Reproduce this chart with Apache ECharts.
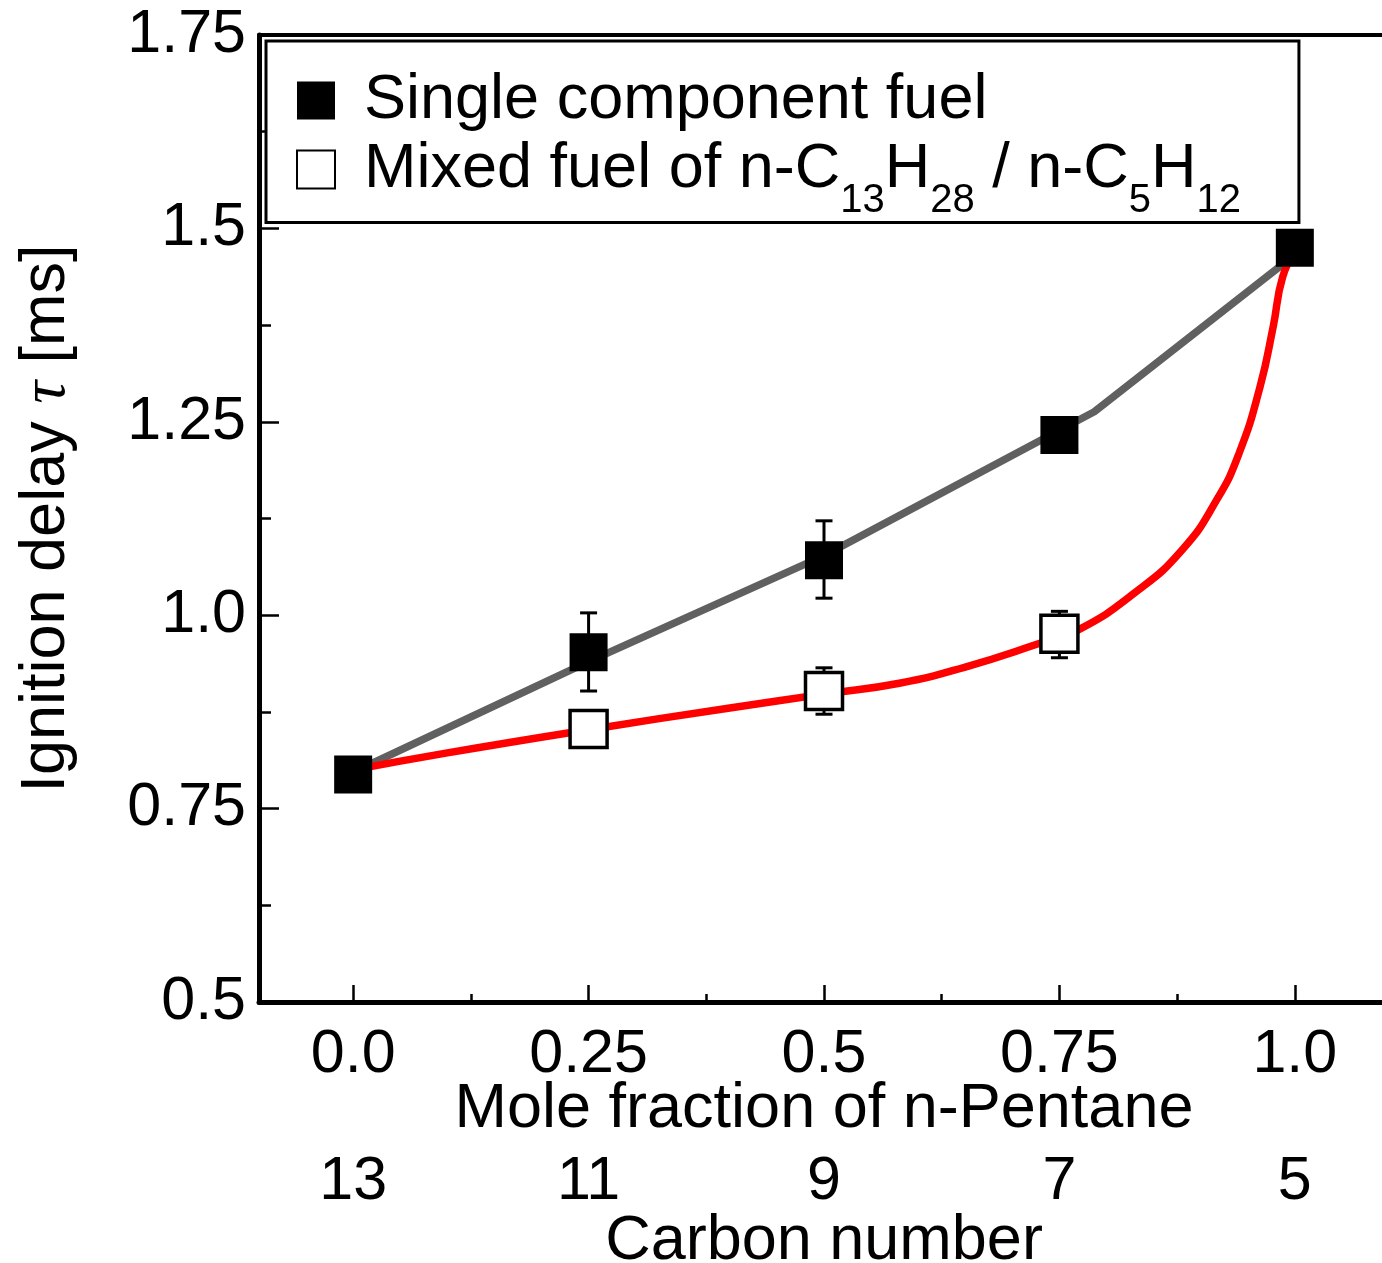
<!DOCTYPE html>
<html>
<head>
<meta charset="utf-8">
<script src="https://cdn.jsdelivr.net/npm/echarts@6/dist/echarts.min.js"></script>
<style>html,body{margin:0;padding:0;background:#fff}#c{width:1382px;height:1263px}</style>
</head>
<body>
<div id="c"></div>
<script>
// ---- data ----
const xTicks = [0, 0.25, 0.5, 0.75, 1.0];
const xTickLabels = ['0.0', '0.25', '0.5', '0.75', '1.0'];
const xMinorTicks = [0.125, 0.375, 0.625, 0.875];
const carbonLabels = ['13', '11', '9', '7', '5'];
const yTicks = [0.5, 0.75, 1.0, 1.25, 1.5, 1.75];
const yTickLabels = ['0.5', '0.75', '1.0', '1.25', '1.5', '1.75'];

const singleX = [0, 0.25, 0.5, 0.75, 1.0];
const singleY = [0.794, 0.952, 1.071, 1.233, 1.475];
const singleErrX = [0.25, 0.5];
const singleErrLow = [0.902, 1.022];
const singleErrHigh = [1.003, 1.122];

const mixedX = [0.25, 0.5, 0.75];
const mixedY = [0.853, 0.902, 0.976];
const mixedErrX = [0.5, 0.75];
const mixedErrLow = [0.872, 0.945];
const mixedErrHigh = [0.932, 1.005];

const grayX = [0, 0.25, 0.5, 0.787, 1.0];
const grayY = [0.797, 0.94, 1.077, 1.263, 1.466];

const redX = [0, 0.1, 0.25, 0.4, 0.5, 0.58, 0.65, 0.73, 0.77, 0.83, 0.88, 0.917, 0.941, 0.963, 0.977, 0.987, 1.0];
const redY = [0.80, 0.822, 0.852, 0.880, 0.898, 0.912, 0.933, 0.964, 0.981, 1.029, 1.084, 1.149, 1.210, 1.295, 1.373, 1.437, 1.47];

const NAME_SINGLE = 'Single component fuel';
const NAME_MIXED = 'Mixed fuel of n-C13H28 / n-C5H12';

// ---- build ----
const FONT = 'Liberation Sans, Arial, Helvetica, sans-serif';
const zip = (xs, ys) => xs.map((x, i) => [x, ys[i]]);
const zip3 = (xs, a, b) => xs.map((x, i) => [x, a[i], b[i]]);
const pick = (vals, labels) => v => {
  for (let i = 0; i < vals.length; i++) if (Math.abs(vals[i] - v) < 1e-9) return labels[i];
  return '';
};

function errRender(params, api) {
  const x = api.value(0);
  const p1 = api.coord([x, api.value(1)]);
  const p2 = api.coord([x, api.value(2)]);
  const cap = 8.5;
  const st = { stroke: '#000', lineWidth: 3 };
  return {
    type: 'group',
    children: [
      { type: 'line', shape: { x1: p1[0], y1: p1[1], x2: p2[0], y2: p2[1] }, style: st },
      { type: 'line', shape: { x1: p1[0] - cap, y1: p1[1], x2: p1[0] + cap, y2: p1[1] }, style: st },
      { type: 'line', shape: { x1: p2[0] - cap, y1: p2[1], x2: p2[0] + cap, y2: p2[1] }, style: st }
    ]
  };
}

const chart = echarts.init(document.getElementById('c'), null, { renderer: 'canvas' });
const baseX = { type: 'value', min: -0.1, max: 1.1, splitLine: { show: false } };
const TICK_FS = 61, TITLE_FS = 63, LEG_FS = 63;

chart.setOption({
  animation: false,
  backgroundColor: '#fff',
  grid: { left: 259, top: 35, width: 1130, height: 967, containLabel: false, outerBoundsMode: 'none' },
  legend: {
    data: [NAME_SINGLE, NAME_MIXED],
    orient: 'vertical',
    left: 266, top: 41,
    padding: [28, 58, 2, 30],
    itemGap: 6,
    itemWidth: 38, itemHeight: 38,
    borderColor: '#000', borderWidth: 3,
    backgroundColor: '#fff',
    selectedMode: false,
    formatter: function (name) {
      if (name === NAME_SINGLE) return '{sp|}{a|Single component fuel}';
      return '{sp|}{a|Mixed fuel of n-C}{s|13}{a|H}{s|28}{a| / n-C}{s|5}{a|H}{s|12}';
    },
    textStyle: {
      fontFamily: FONT, fontSize: LEG_FS, lineHeight: 60, color: '#000',
      rich: {
        sp: { width: 24, lineHeight: 60 },
        a: { fontFamily: FONT, fontSize: LEG_FS, lineHeight: 60, color: '#000' },
        s: { fontFamily: FONT, fontSize: 40, lineHeight: 14, verticalAlign: 'top', padding: [41, 0, 0, 0], color: '#000' }
      }
    }
  },
  xAxis: [
    Object.assign({}, baseX, {
      position: 'bottom',
      axisLine: { show: true, onZero: false, lineStyle: { color: '#000', width: 5 } },
      axisTick: { show: true, inside: true, length: 17, customValues: xTicks, lineStyle: { color: '#000', width: 2.5 } },
      axisLabel: { show: true, customValues: xTicks, formatter: pick(xTicks, xTickLabels), fontFamily: FONT, fontSize: TICK_FS, color: '#000', margin: 23 },
      name: 'Mole fraction of n-Pentane', nameLocation: 'middle', nameGap: 76, nameMoveOverlap: false,
      nameTextStyle: { fontFamily: FONT, fontSize: TITLE_FS, color: '#000' }
    }),
    Object.assign({}, baseX, {
      position: 'bottom',
      axisLine: { show: false, onZero: false },
      axisTick: { show: true, inside: true, length: 8, customValues: xMinorTicks, lineStyle: { color: '#000', width: 2.5 } },
      axisLabel: { show: false }
    }),
    Object.assign({}, baseX, {
      position: 'bottom',
      axisLine: { show: false, onZero: false },
      axisTick: { show: false },
      axisLabel: { show: true, customValues: xTicks, formatter: pick(xTicks, carbonLabels), fontFamily: FONT, fontSize: TICK_FS, color: '#000', margin: 150 },
      name: 'Carbon number', nameLocation: 'middle', nameGap: 208, nameMoveOverlap: false,
      nameTextStyle: { fontFamily: FONT, fontSize: TITLE_FS, color: '#000' }
    }),
    Object.assign({}, baseX, {
      position: 'top',
      axisLine: { show: true, onZero: false, lineStyle: { color: '#000', width: 4 } },
      axisTick: { show: false },
      axisLabel: { show: false }
    })
  ],
  yAxis: [{
    type: 'value', min: 0.5, max: 1.75, interval: 0.25,
    splitLine: { show: false },
    axisLine: { show: true, onZero: false, lineStyle: { color: '#000', width: 5 } },
    axisTick: { show: true, inside: true, length: 20, lineStyle: { color: '#000', width: 2.5 } },
    minorTick: { show: true, splitNumber: 2, length: 12, lineStyle: { color: '#000', width: 2.5 } },
    axisLabel: { formatter: pick(yTicks, yTickLabels), fontFamily: FONT, fontSize: TICK_FS, color: '#000', margin: 13 },
    name: '{a|Ignition delay }{t|τ}{a| [ms]}',
    nameLocation: 'middle', nameGap: 180,
    nameTextStyle: {
      fontFamily: FONT, fontSize: TITLE_FS, color: '#000',
      rich: {
        a: { fontFamily: FONT, fontSize: TITLE_FS, color: '#000' },
        t: { fontFamily: 'Liberation Serif, DejaVu Serif, serif', fontStyle: 'italic', fontSize: 64, color: '#000' }
      }
    }
  }],
  series: [
    {
      name: 'fit single', type: 'line', data: zip(grayX, grayY),
      showSymbol: false, symbol: 'none', z: 2,
      lineStyle: { color: '#606060', width: 7.5 }
    },
    {
      name: 'fit mixed', type: 'line', data: zip(redX, redY),
      showSymbol: false, symbol: 'none', smooth: 0.5, z: 3,
      lineStyle: { color: '#ff0000', width: 7.5 }
    },
    {
      name: 'err single', type: 'custom', renderItem: errRender, data: zip3(singleErrX, singleErrLow, singleErrHigh), z: 4
    },
    {
      name: 'err mixed', type: 'custom', renderItem: errRender, data: zip3(mixedErrX, mixedErrLow, mixedErrHigh), z: 4
    },
    {
      name: NAME_MIXED, type: 'scatter', data: zip(mixedX, mixedY), symbol: 'rect', symbolSize: 37, z: 5,
      itemStyle: { color: '#fff', borderColor: '#000', borderWidth: 3.5, opacity: 1 }
    },
    {
      name: NAME_SINGLE, type: 'scatter', data: zip(singleX, singleY), symbol: 'rect', symbolSize: 38, z: 6,
      itemStyle: { color: '#000', opacity: 1 }
    }
  ]
});
</script>
</body>
</html>
